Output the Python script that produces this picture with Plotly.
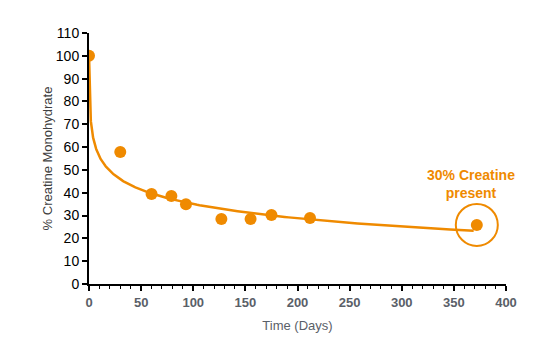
import numpy as np
import plotly.graph_objects as go

days = [0, 30, 60, 79, 93, 127, 155, 175, 212, 372]
pct_creatine = [100, 57.8, 39.4, 38.6, 35.0, 28.5, 28.5, 30.2, 28.9, 25.9]

# logarithmic trend line y = A - B*ln(x), coefficients
trend_a = 76.5
trend_b = 9.0
trend_x0, trend_x1 = 0.08, 369

x_ticks = [0, 50, 100, 150, 200, 250, 300, 350, 400]
y_ticks = list(range(0, 111, 10))

orange = "#EF8A00"
gray = "#5A6068"

tx = np.geomspace(trend_x0, trend_x1, 400)
ty = trend_a - trend_b * np.log(tx)

fig = go.Figure()
fig.add_trace(go.Scatter(x=tx, y=ty, mode="lines",
                         line=dict(color=orange, width=2.5), hoverinfo="skip"))
fig.add_trace(go.Scatter(x=days, y=pct_creatine, mode="markers",
                         marker=dict(color=orange, size=12)))

fig.add_shape(type="circle", xref="x", yref="y", xsizemode="pixel", ysizemode="pixel",
              xanchor=days[-1], yanchor=pct_creatine[-1],
              x0=-21, x1=21, y0=-21, y1=21,
              line=dict(color=orange, width=2))
fig.add_annotation(x=days[-1] - 6, y=pct_creatine[-1] + 9.5, xref="x", yref="y",
                   text="<b>30% Creatine<br>present</b>", showarrow=False,
                   yanchor="bottom", xanchor="center",
                   font=dict(color=orange, size=14, family="Liberation Sans, Arial"))

fig.update_layout(
    width=539, height=355,
    margin=dict(l=81, r=41, t=25, b=79),
    plot_bgcolor="white", paper_bgcolor="white",
    showlegend=False,
    font=dict(family="Liberation Sans, Arial", color="black", size=14),
)
fig.update_xaxes(range=[0, 400], tickvals=x_ticks, showgrid=False, zeroline=False,
                 showline=True, linecolor="black", linewidth=2,
                 ticks="outside", ticklen=5, tickwidth=1.5, tickcolor="black",
                 minor=dict(dtick=10, ticks="outside", ticklen=3, tickcolor="black", tickwidth=1),
                 tickfont=dict(color=gray, size=13, family="Liberation Sans, Arial", weight="bold"),
                 title=dict(text="Time (Days)", font=dict(color=gray, size=13), standoff=12))
fig.update_yaxes(range=[0, 110], tickvals=y_ticks, showgrid=False, zeroline=False,
                 showline=True, linecolor="black", linewidth=2,
                 ticks="outside", ticklen=5, tickwidth=1.5, tickcolor="black",
                 tickfont=dict(color="black", size=14),
                 title=dict(text="% Creatine Monohydrate", font=dict(color="#404040", size=13), standoff=0))

fig.write_html("out.html")
